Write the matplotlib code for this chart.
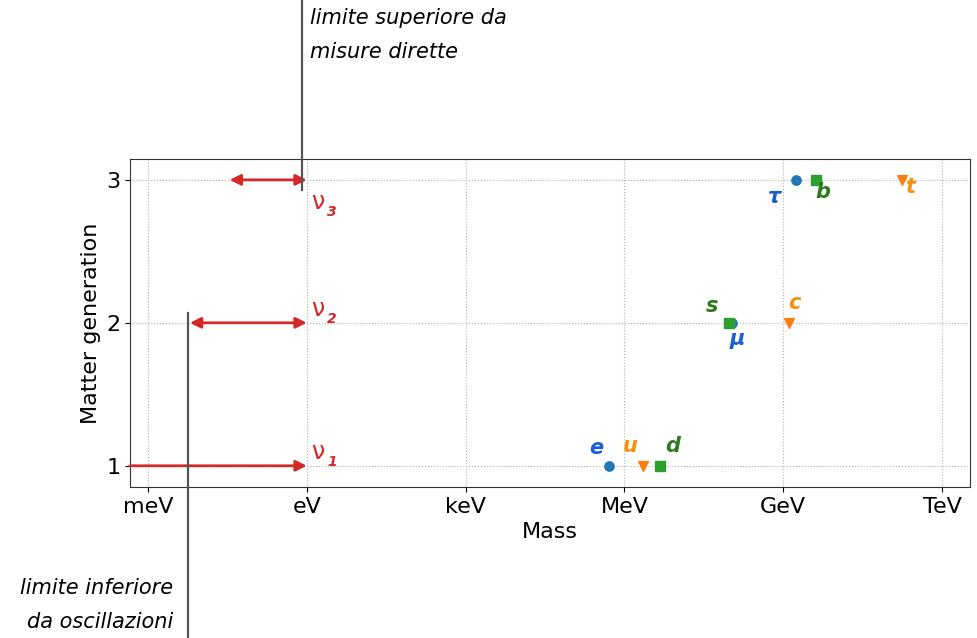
import matplotlib
matplotlib.use("Agg")
import matplotlib.pyplot as plt
from matplotlib.transforms import blended_transform_factory

# masse in eV
leptons = ['e', 'μ', 'τ']
lepton_mass = [0.511e6, 105.7e6, 1.777e9]
up_quarks = ['u', 'c', 't']
up_mass = [2.2e6, 1.27e9, 173e9]
down_quarks = ['d', 's', 'b']
down_mass = [4.7e6, 95e6, 4.18e9]
generations = [1, 2, 3]

# neutrini: limite inferiore (oscillazioni) e superiore (misure dirette)
nu_low = [4.6e-4, 6.2e-3, 3.5e-2]
nu_high = [1.0, 1.0, 1.0]
nu_limit_direct = 0.8
nu_limit_osc = 5.6e-3

tick_pos = [1e-3, 1, 1e3, 1e6, 1e9, 1e12]
tick_lab = ['meV', 'eV', 'keV', 'MeV', 'GeV', 'TeV']

hand = dict(family='DejaVu Sans', style='italic', fontweight='bold')
note = dict(family='DejaVu Sans', style='italic')

fig = plt.figure(figsize=(9.78, 6.38), dpi=100)
ax = fig.add_axes([0.133, 0.237, 0.859, 0.514])
ax.set_xscale('log')
ax.set_xlim(4.6e-4, 3.4e12)
ax.set_ylim(0.853, 3.147)

ax.scatter(lepton_mass, generations, marker='o', color='tab:blue', s=45, zorder=3)
ax.scatter(up_mass, generations, marker='v', color='tab:orange', s=50, zorder=3)
ax.scatter(down_mass, generations, marker='s', color='tab:green', s=45, zorder=3)

# etichette particelle (offset in punti)
lab_blue = '#1a5fd6'
lab_orange = '#f5900f'
lab_green = '#2f7a1f'
off_lep = [(-9, 13), (4, -12), (-16, -12)]
off_up = [(-9, 14), (4, 14), (6, -5)]
off_down = [(9, 14), (-12, 12), (5, -9)]
groups = [(leptons, lepton_mass, off_lep, lab_blue),
          (up_quarks, up_mass, off_up, lab_orange),
          (down_quarks, down_mass, off_down, lab_green)]
for names, masses, offs, col in groups:
    for name, m, g, o in zip(names, masses, generations, offs):
        ax.annotate(name, (m, g), xytext=o, textcoords='offset points', color=col,
                    fontsize=15, ha='center', va='center', **hand)

# frecce neutrini
nu_red = '#d62728'
nu_off = [(8, 10), (8, 10), (8, -16)]
for lo, hi, g, o in zip(nu_low, nu_high, generations, nu_off):
    style = '-|>' if g == 1 else '<|-|>'
    ax.annotate('', xy=(hi, g), xytext=(lo, g),
                arrowprops=dict(arrowstyle=style, color=nu_red, lw=2.0, mutation_scale=16,
                                shrinkA=0, shrinkB=0), zorder=4)
    ax.annotate('ν', (hi, g), xytext=o, textcoords='offset points', color=nu_red,
                fontsize=17, ha='center', va='center')
    ax.annotate(str(g), (hi, g), xytext=(o[0] + 10, o[1] - 7), textcoords='offset points',
                color=nu_red, fontsize=10, ha='center', va='center', **hand)

# linee dei limiti (x in dati, y in frazione di figura)
tr = blended_transform_factory(ax.transData, fig.transFigure)
ax.plot([nu_limit_direct, nu_limit_direct], [1.0, 1 - 190 / 638], transform=tr,
        color='#555555', lw=1.6, clip_on=False, zorder=5)
ax.plot([nu_limit_osc, nu_limit_osc], [1 - 313 / 638, 0.0], transform=tr,
        color='#555555', lw=1.6, clip_on=False, zorder=5)
fig.text(310 / 978, 1 - 8 / 638, 'limite superiore da\nmisure dirette', ha='left', va='top',
         fontsize=15, linespacing=1.9, **note)
fig.text(173 / 978, 6 / 638, 'limite inferiore\nda oscillazioni', ha='right', va='bottom',
         fontsize=15, linespacing=1.9, multialignment='right', **note)

ax.set_xticks(tick_pos)
ax.set_xticklabels(tick_lab)
ax.minorticks_off()
ax.set_yticks(generations)
ax.tick_params(labelsize=16)
ax.grid(True, linestyle=':', color='#b0b0b0')
ax.set_xlabel('Mass', fontsize=16)
ax.set_ylabel('Matter generation', fontsize=16)
for s in ax.spines.values():
    s.set_color('#333333')

fig.savefig('out.png', dpi=100)
